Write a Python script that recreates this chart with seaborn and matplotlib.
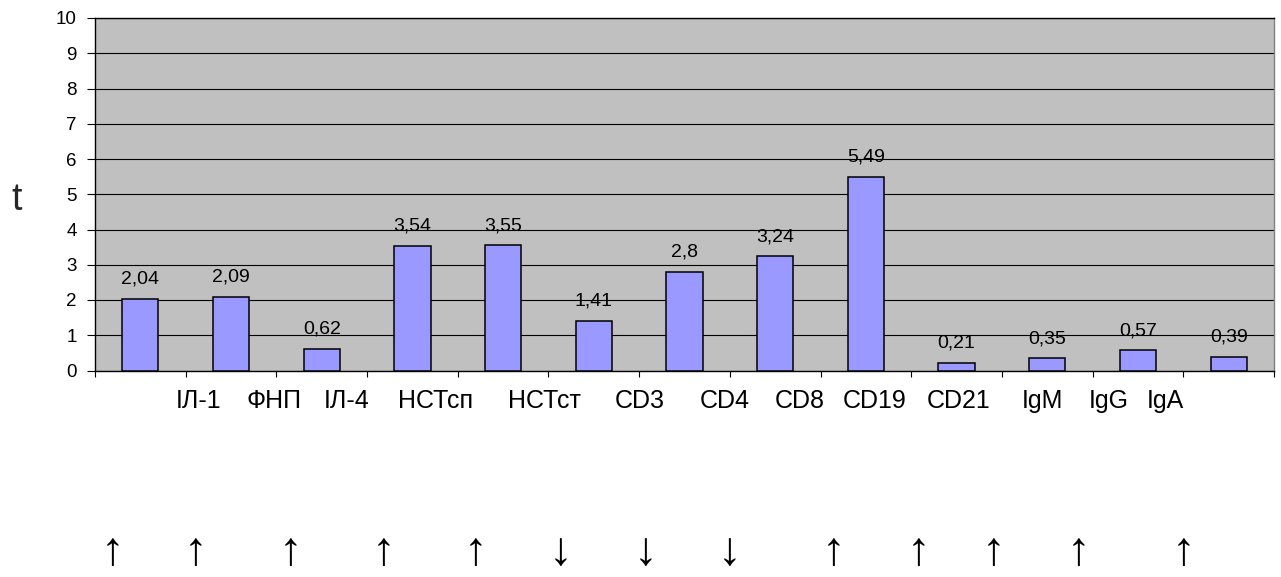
import matplotlib
matplotlib.use("Agg")
import matplotlib.pyplot as plt
import matplotlib.transforms as mtransforms
import numpy as np
import pandas as pd
import seaborn as sns

# Immunological markers and their t-values
markers = ["ІЛ-1", "ФНП", "ІЛ-4", "НСТсп", "НСТст", "CD3", "CD4",
           "CD8", "CD19", "CD21", "IgM", "IgG", "IgA"]
t_values = [2.04, 2.09, 0.62, 3.54, 3.55, 1.41, 2.8, 3.24, 5.49,
            0.21, 0.35, 0.57, 0.39]
trend = ["↑", "↑", "↑", "↑", "↑", "↓", "↓", "↓", "↑", "↑", "↑", "↑", "↑"]
y_ticks = list(range(0, 11))

# Horizontal placement (in bar-index units) of the marker captions and arrows
label_x = [0.64, 1.47, 2.27, 3.25, 4.46, 5.51, 6.44, 7.27, 8.10, 9.02,
           9.95, 10.68, 11.30]
arrow_x = [-0.31, 0.61, 1.65, 2.68, 3.70, 4.63, 5.57, 6.50, 7.64, 8.58,
           9.41, 10.34, 11.50]

sns.set_style("white")
plt.rcParams["font.family"] = ["Liberation Sans", "DejaVu Sans"]

W, H = 1281, 577
fig = plt.figure(figsize=(W / 100, H / 100), dpi=100)
ax = fig.add_axes([95 / W, 1 - 370.5 / H, (1274 - 95) / W, (370.5 - 18) / H])

df = pd.DataFrame({"marker": markers, "t": t_values})
sns.barplot(data=df, x="marker", y="t", color="#9999FF", saturation=1,
            width=0.4, edgecolor="black", linewidth=1.1, ax=ax, zorder=3)

ax.set_facecolor("#C0C0C0")
ax.set_xlim(-0.5, len(markers) - 0.5)
ax.set_ylim(0, 10)
ax.set_yticks(y_ticks)
ax.set_yticklabels([str(v) for v in y_ticks])
ax.set_xticks(np.arange(-0.5, len(markers), 1.0))
ax.set_xticklabels([])
ax.set_xlabel("")
ax.set_ylabel("")
ax.yaxis.grid(True, color="black", linewidth=0.8)
ax.xaxis.grid(False)
ax.set_axisbelow(True)

ax.tick_params(axis="x", length=4, width=0.8, color="black", direction="out")
ax.tick_params(axis="y", length=6, width=0.8, color="black", direction="out",
               pad=7, labelsize=13.5, labelcolor="black")
ax.tick_params(left=True, bottom=True)

for side in ("left", "bottom", "top"):
    ax.spines[side].set_color("black")
    ax.spines[side].set_linewidth(1.0)
ax.spines["right"].set_color("#808080")
ax.spines["right"].set_linewidth(1.0)

# Value labels above the bars
ax.bar_label(ax.containers[0],
             labels=[f"{v:g}".replace(".", ",") for v in t_values],
             padding=8, fontsize=14, color="black")

# Marker captions and trend arrows below the plot
blend = mtransforms.blended_transform_factory(ax.transData, fig.transFigure)
for x, lab in zip(label_x, markers):
    ax.text(x, 1 - 401 / H, lab, transform=blend, ha="center", va="center",
            fontsize=18, color="black", clip_on=False)
for x, arr in zip(arrow_x, trend):
    ax.text(x, 0.004, arr, transform=blend, ha="center", va="bottom",
            fontsize=34, color="black", clip_on=False)

fig.text(17 / W, 1 - 200 / H, "t", fontsize=27, ha="center", va="center")

fig.savefig("out.png", dpi=100, facecolor="white")
